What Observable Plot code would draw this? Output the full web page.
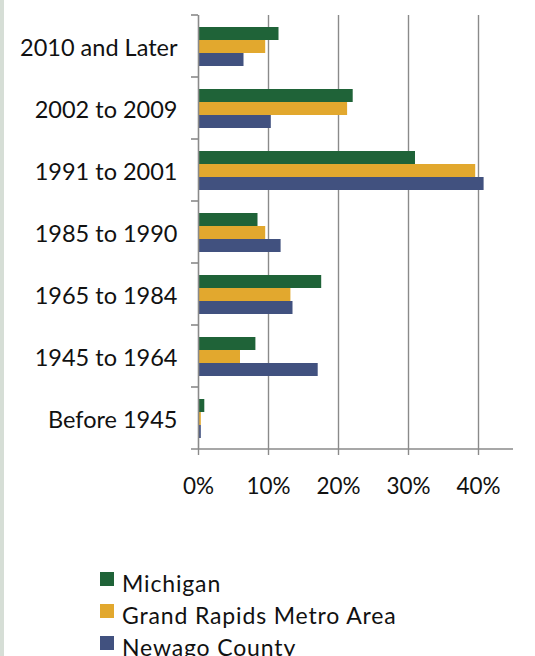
<!DOCTYPE html>
<html>
<head>
<meta charset="utf-8">
<script src="https://cdn.jsdelivr.net/npm/d3@7"></script>
<script src="https://cdn.jsdelivr.net/npm/@observablehq/plot@0.6"></script>
<style>
  html, body { margin: 0; padding: 0; background: #fff; }
  body { width: 535px; height: 656px; position: relative; overflow: hidden; font-family: Lato, sans-serif; }
  #strip { position: absolute; left: 0; top: 0; width: 4px; height: 656px; background: #d6ded6; }
  #legend { position: absolute; left: 100px; top: 567px; font-family: Lato, sans-serif; font-size: 23px; color: #111; }
  .row { position: relative; height: 32.2px; line-height: 32px; padding-left: 22px; white-space: nowrap; letter-spacing: 0.85px; }
  .sw { position: absolute; left: 0; top: 5px; width: 14px; height: 14px; }
</style>
</head>
<body>
<div id="strip"></div>
<div id="chart"></div>
<div id="legend"></div>
<script>
const categories = ["2010 and Later", "2002 to 2009", "1991 to 2001", "1985 to 1990", "1965 to 1984", "1945 to 1964", "Before 1945"];
const series = ["Michigan", "Grand Rapids Metro Area", "Newago County"];
const michigan    = [11.5, 22.1, 31.0,  8.5, 17.6,  8.2, 0.9];
const grandRapids = [ 9.6, 21.3, 39.6,  9.6, 13.2,  6.0, 0.4];
const newago      = [ 6.5, 10.4, 40.8, 11.8, 13.5, 17.1, 0.4];
const colors = ["#1F6338", "#E2A82E", "#41517F"];
const xTicks = [0, 10, 20, 30, 40];
const xMax = 45;

const valuesBySeries = [michigan, grandRapids, newago];
const data = [];
categories.forEach((c, i) => {
  series.forEach((s, j) => data.push({category: c, series: s, value: valuesBySeries[j][i]}));
});

const gridColor = "#8a8a8a";

const plot = Plot.plot({
  width: 535,
  height: 500,
  marginLeft: 198,
  marginRight: 22,
  marginTop: 14,
  marginBottom: 51,
  style: {fontFamily: "Lato, sans-serif", color: "#111", background: "transparent"},
  x: {domain: [0, xMax]},
  fy: {domain: categories, padding: 0},
  y: {domain: series, paddingInner: 0, paddingOuter: 0.72},
  color: {domain: series, range: colors},
  marks: [
    Plot.ruleX(xTicks.filter(d => d > 0), {stroke: gridColor, strokeWidth: 1.4}),
    Plot.barX(data, {x: "value", y: "series", fy: "category", fill: "series"}),
    Plot.ruleX([0], {stroke: gridColor, strokeWidth: 1.6}),
    Plot.axisX({ticks: xTicks, tickFormat: d => d + "%", tickSize: 6, tickPadding: 23, fontSize: 22.5, label: null, stroke: gridColor, strokeWidth: 1.4}),
    Plot.axisFy({anchor: "left", tickSize: 0, tickPadding: 21, fontSize: 23.5, label: null, dy: 2}),
    Plot.axisY({ticks: [], label: null})
  ]
});

document.getElementById("chart").appendChild(plot);

// Category boundary ticks and horizontal axis line, from the plot's own scales
const fy = plot.scale("fy");
const xs = plot.scale("x");
const svg = d3.select(plot);
const x0 = xs.apply(0);
const g = svg.append("g").attr("stroke", gridColor).attr("stroke-width", 1.6);
categories.forEach(c => {
  const y = fy.apply(c);
  g.append("line").attr("x1", x0 - 7).attr("x2", x0).attr("y1", y).attr("y2", y);
});
const yBottom = fy.apply(categories[categories.length - 1]) + fy.bandwidth;
g.append("line").attr("x1", x0 - 7).attr("x2", xs.apply(xMax)).attr("y1", yBottom).attr("y2", yBottom);

// Legend
const legend = d3.select("#legend");
series.forEach((s, i) => {
  const row = legend.append("div").attr("class", "row");
  row.append("span").attr("class", "sw").style("background", colors[i]);
  row.append("span").text(s);
});
</script>
</body>
</html>
